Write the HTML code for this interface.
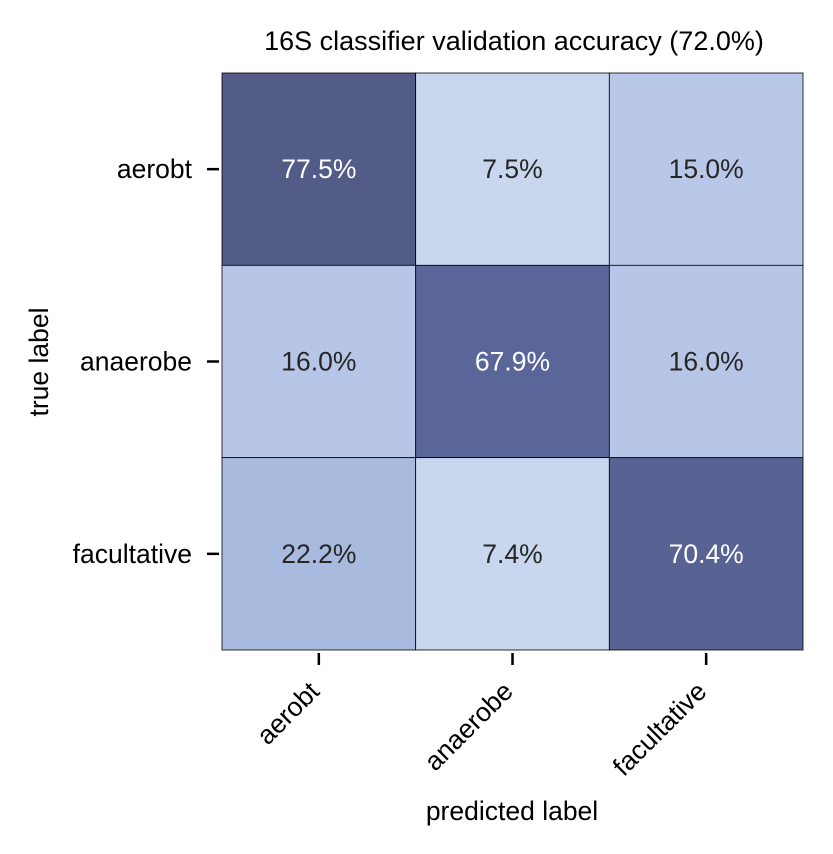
<!DOCTYPE html>
<html><head><meta charset="utf-8"><style>
body{margin:0;background:#fff;}
svg{display:block;font-family:"Liberation Sans",sans-serif;}
</style></head><body>
<svg id="c" width="833" height="854"></svg>
<script>
const classes=["aerobt","anaerobe","facultative"];
const row0=[77.5,7.5,15.0];
const row1=[16.0,67.9,16.0];
const row2=[22.2,7.4,70.4];
const values=[row0,row1,row2];
const stopVals=[7.4,15,22.2,67.9,77.5];
const stopCols=[[200,214,238],[185,200,232],[169,186,223],[90,102,153],[82,92,135]];
const NS="http://www.w3.org/2000/svg";
const svg=document.getElementById("c");
const x0=222,y0=73,W=581,H=577;
const cw=W/3,ch=H/3;
const FS=26.5;
function xs(i){return x0+i*cw;}
function ys(i){return y0+i*ch;}
function color(v){
  if(v<=stopVals[0])return "rgb("+stopCols[0]+")";
  for(let k=1;k<stopVals.length;k++){
    if(v<=stopVals[k]){const t=(v-stopVals[k-1])/(stopVals[k]-stopVals[k-1]);
      const c=stopCols[k-1].map((a,j)=>Math.round(a+t*(stopCols[k][j]-a)));return "rgb("+c+")";}
  }
  return "rgb("+stopCols[stopCols.length-1]+")";
}
function el(t,a,txt){const e=document.createElementNS(NS,t);for(const k in a)e.setAttribute(k,a[k]);if(txt!=null)e.textContent=txt;svg.appendChild(e);return e;}
const title=el("text",{x:514,y:50,"text-anchor":"middle","font-size":"27",fill:"#000"},"16S classifier validation accuracy (72.0%)");


values.forEach((row,r)=>row.forEach((v,c)=>{
  const rc=el("rect",{x:xs(c),y:ys(r),width:cw,height:ch,fill:color(v),stroke:"#000","stroke-width":0.8});
  
  
  const t=el("text",{x:xs(c)+cw/2,y:ys(r)+ch/2+9,"text-anchor":"middle","font-size":FS,fill:v>50?"#fff":"#262626"},v.toFixed(1)+"%");
  
  
}));
classes.forEach((n,i)=>{
  const yc=ys(i)+ch/2;
  const tk=el("line",{x1:207,x2:219,y1:yc,y2:yc,stroke:"#000","stroke-width":2.5});
  
  
  const lb=el("text",{x:192,y:yc+9,"text-anchor":"end","font-size":FS,fill:"#000"},n);
  
  
  const xc=xs(i)+cw/2;
  const tx=el("line",{x1:xc,x2:xc,y1:653,y2:665,stroke:"#000","stroke-width":2.5});
  
  
  const ax=xc+2, ay=693;
  const xl=el("text",{x:ax,y:ay,"text-anchor":"end","font-size":FS,fill:"#000",transform:"rotate(-45 "+ax+" "+ay+")"},n);
  
  
});
const xt=el("text",{x:512,y:820,"text-anchor":"middle","font-size":FS,fill:"#000"},"predicted label");


const yt=el("text",{x:48,y:362,"text-anchor":"middle","font-size":FS,fill:"#000",transform:"rotate(-90 48 362)"},"true label");


</script>
</body></html>
